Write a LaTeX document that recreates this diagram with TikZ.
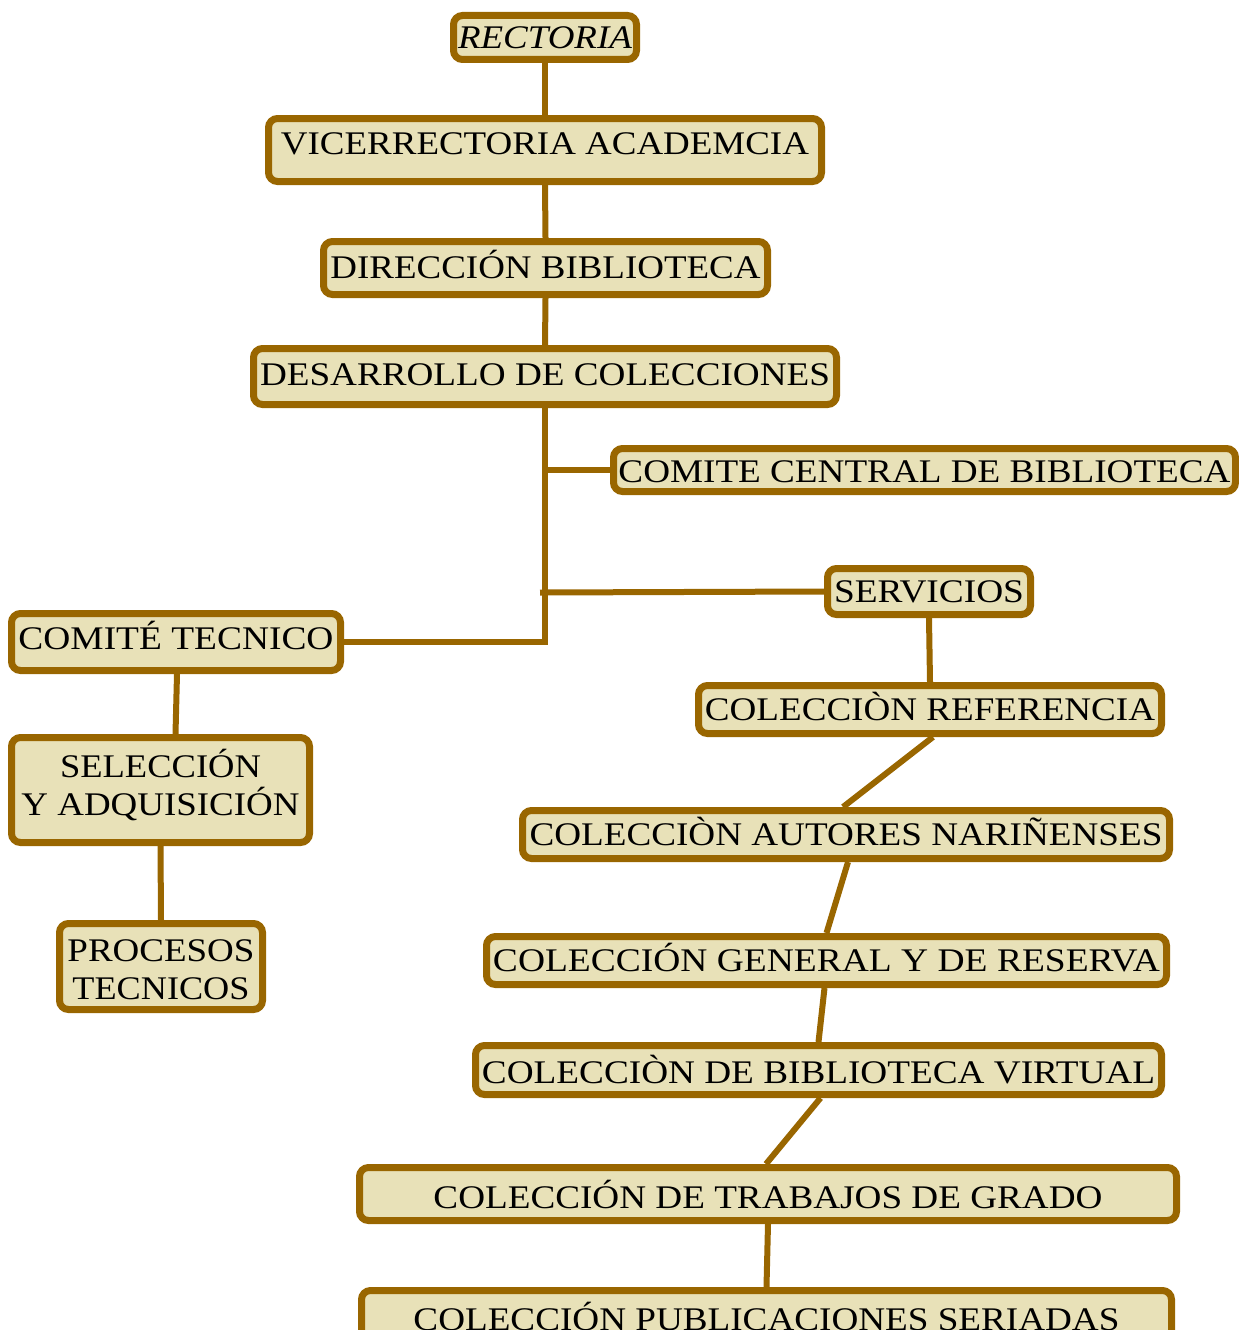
\documentclass[tikz,border=0pt]{standalone}
\usepackage{fontspec}
\setmainfont{Liberation Serif}
\usepackage{graphicx}
\usetikzlibrary{backgrounds,calc}
\definecolor{bord}{HTML}{996600}
\definecolor{boxfill}{HTML}{E8E1B8}
% #1 target width (pt), #2 vertical shift (pt), #3 text
\newcommand{\lineW}[3]{\raisebox{#2pt}[22pt][0pt]{\resizebox{#1pt}{\height}{#3}}}
\tikzset{
  bx/.style={draw=bord, fill=boxfill, line width=7pt, rounded corners=9pt,
    inner sep=0pt, align=center, font=\fontsize{33}{38}\selectfont},
  conn/.style={draw=bord, line width=6pt},
}
\begin{document}
\begin{tikzpicture}[x=1pt,y=-1pt]
\useasboundingbox (0,0) rectangle (1239,1330);
\node[bx, minimum width=183pt, minimum height=44pt] (rect) at (545,37.5) {\lineW{174}{0}{\itshape RECTORIA}};
\node[bx, minimum width=553pt, minimum height=63pt] (vice) at (545,150) {\lineW{528}{7}{VICERRECTORIA ACADEMCIA}};
\node[bx, minimum width=444pt, minimum height=53pt] (dir) at (545.5,268) {\lineW{430}{1}{DIRECCIÓN BIBLIOTECA}};
\node[bx, minimum width=583pt, minimum height=56pt] (des) at (545,376.5) {\lineW{570}{2}{DESARROLLO DE COLECCIONES}};
\node[bx, minimum width=622pt, minimum height=43pt] (ccb) at (924.5,470) {\lineW{612}{-1}{COMITE CENTRAL DE BIBLIOTECA}};
\node[bx, minimum width=203pt, minimum height=46pt] (serv) at (929,591.5) {\lineW{190}{0}{SERVICIOS}};
\node[bx, minimum width=329pt, minimum height=57pt] (ctec) at (176,642) {\lineW{315}{4}{COMITÉ TECNICO}};
\node[bx, minimum width=298pt, minimum height=105pt] (sel) at (160.5,790) {\lineW{201}{5}{SELECCIÓN}\\\lineW{278}{5}{Y ADQUISICIÓN}};
\node[bx, minimum width=203pt, minimum height=86pt] (proc) at (161,966.5) {\lineW{187}{-3}{PROCESOS}\\\lineW{177}{-3}{TECNICOS}};
\node[bx, minimum width=463pt, minimum height=48pt] (ref) at (930,709.5) {\lineW{450}{0}{COLECCIÒN REFERENCIA}};
\node[bx, minimum width=647pt, minimum height=48pt] (aut) at (846,834.5) {\lineW{633}{0}{COLECCIÒN AUTORES NARIÑENSES}};
\node[bx, minimum width=680pt, minimum height=48pt] (gen) at (826.5,960.5) {\lineW{667}{0}{COLECCIÓN GENERAL Y DE RESERVA}};
\node[bx, minimum width=686pt, minimum height=49pt] (virt) at (818.5,1070) {\lineW{673}{-2}{COLECCIÒN DE BIBLIOTECA VIRTUAL}};
\node[bx, minimum width=817pt, minimum height=53pt] (trab) at (768,1194) {\lineW{669}{-3}{COLECCIÓN DE TRABAJOS DE GRADO}};
\node[bx, minimum width=810pt, minimum height=53pt] (pub) at (766.5,1317) {\lineW{706}{-2}{COLECCIÓN PUBLICACIONES SERIADAS}};
\coordinate (jserv) at ($(des.south |- serv.west)+(-5,1)$);
\begin{scope}[on background layer]
  \draw[conn] (rect.south) -- (vice.north);
  \draw[conn] (vice.south) -- (dir.north);
  \draw[conn] (dir.south) -- (des.north);
  \draw[conn] (des.south) |- (ctec.east);
  \draw[conn] (des.south |- ccb.west) -- (ccb.west);
  \draw[conn] (jserv) -- (serv.west);
  \draw[conn] ($(ctec.south)+(1,0)$) -- ($(sel.north)+(15,0)$);
  \draw[conn] (sel.south) -- (proc.north);
  \draw[conn] (serv.south) -- (ref.north);
  \draw[conn] ($(ref.south)+(3,0)$) -- ($(aut.north)+(-3,0)$);
  \draw[conn] ($(aut.south)+(2,0)$) -- (gen.north);
  \draw[conn] ($(gen.south)+(-2,0)$) -- (virt.north);
  \draw[conn] ($(virt.south)+(2,0)$) -- ($(trab.north)+(-2,0)$);
  \draw[conn] (trab.south) -- (pub.north);
\end{scope}
\end{tikzpicture}
\end{document}
